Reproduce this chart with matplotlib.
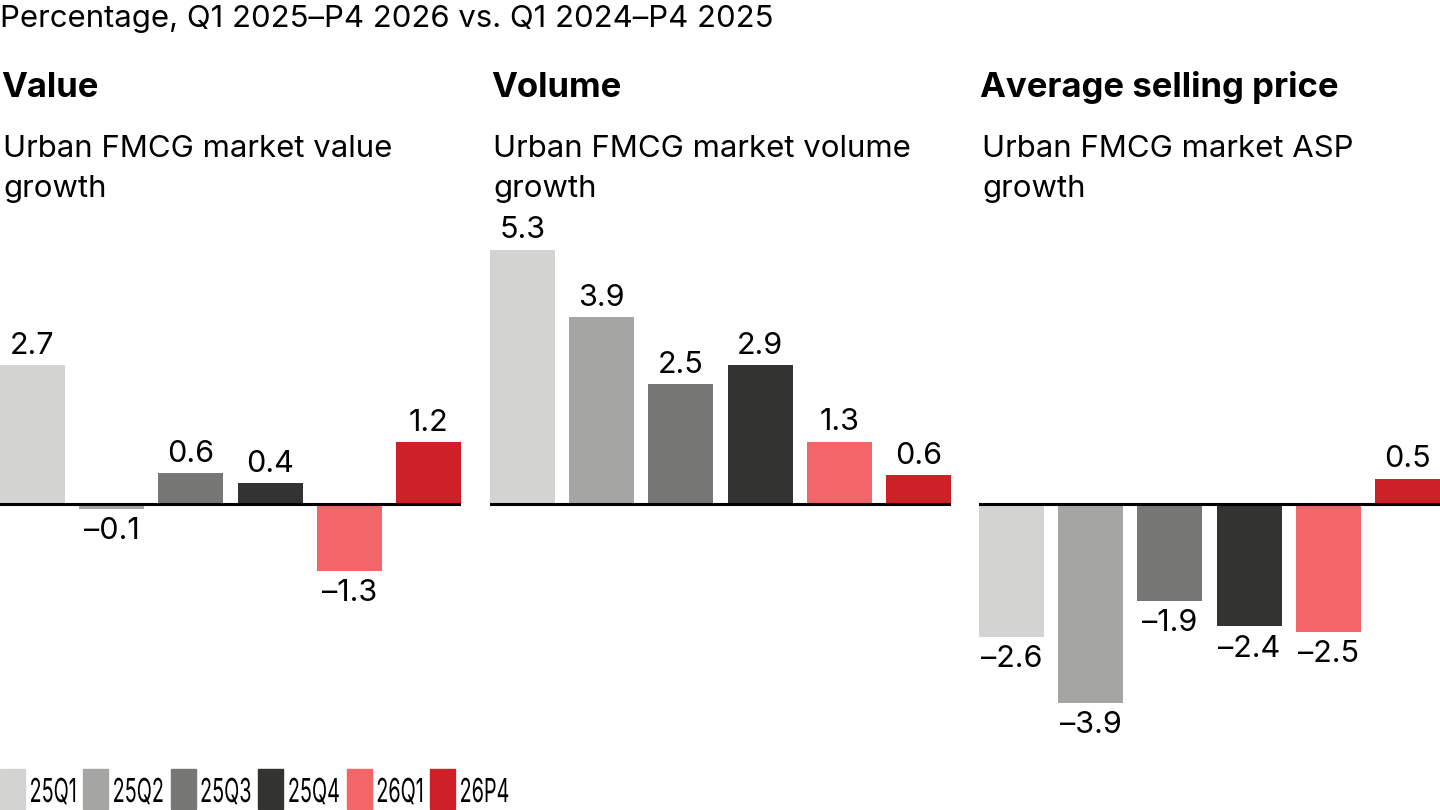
import matplotlib
matplotlib.use("Agg")
import matplotlib.pyplot as plt
from matplotlib.textpath import TextPath
from matplotlib.patches import PathPatch, Rectangle
from matplotlib.font_manager import FontProperties
from matplotlib.transforms import Affine2D

plt.rcParams['font.family'] = ['Inter', 'DejaVu Sans']

# data
quarters = ["25Q1", "25Q2", "25Q3", "25Q4", "26Q1", "26P4"]
value_growth = [2.7, -0.1, 0.6, 0.4, -1.3, 1.2]
volume_growth = [5.3, 3.9, 2.5, 2.9, 1.3, 0.6]
asp_growth = [-2.6, -3.9, -1.9, -2.4, -2.5, 0.5]

panel_titles = ["Value", "Volume", "Average selling price"]
panel_subtitles = [("Urban FMCG market value", "growth"),
                   ("Urban FMCG market volume", "growth"),
                   ("Urban FMCG market ASP", "growth")]
header = "Percentage, Q1 2025\u2013P4 2026 vs. Q1 2024\u2013P4 2025"

colors = ["#d3d3d2", "#a5a5a4", "#777776", "#333332", "#f26669", "#cd2027"]

W, H = 1440, 810
fig = plt.figure(figsize=(W / 100, H / 100), dpi=100)

# pixel layout helpers
def fx(px):
    return px / W

def fy(py):
    return 1 - py / H

lefts = [0, 490, 979]
scales = [51.5, 48.0, 51.0]   # px per percentage point in each panel
ax_w = 461
ax_top, ax_bot = 200, 740
zero_px = 504

fig.text(fx(0), fy(27), header, fontsize=22.4, va='baseline', ha='left')

all_series = [value_growth, volume_growth, asp_growth]
for left, scale, vals, title, sub in zip(lefts, scales, all_series,
                                         panel_titles, panel_subtitles):
    ax = fig.add_axes([fx(left), fy(ax_bot), fx(ax_w), (ax_bot - ax_top) / H])
    x = list(range(len(vals)))
    bars = ax.bar(x, vals, width=0.82, color=colors, zorder=2)
    ax.axhline(0, color='black', lw=2.2, zorder=3)
    ax.set_xlim(-0.41, len(vals) - 1 + 0.41)
    ax.set_ylim(-(ax_bot - zero_px) / scale, (zero_px - ax_top) / scale)
    ax.axis('off')
    for b, v in zip(bars, vals):
        label = f"{v:.1f}".replace("-", "\u2013")
        if v >= 0:
            ax.annotate(label, (b.get_x() + b.get_width() / 2, v),
                        xytext=(0, 8), textcoords='offset points',
                        ha='center', va='baseline', fontsize=22)
        else:
            ax.annotate(label, (b.get_x() + b.get_width() / 2, v),
                        xytext=(0, -6), textcoords='offset points',
                        ha='center', va='top', fontsize=22)
    fig.text(fx(left + 1), fy(97), title, fontsize=25, fontweight='bold',
             va='baseline', ha='left')
    fig.text(fx(left + 3), fy(157), sub[0], fontsize=22.4, va='baseline', ha='left')
    fig.text(fx(left + 3), fy(197), sub[1], fontsize=22.4, va='baseline', ha='left')

# legend with condensed labels, drawn in pixel space
lax = fig.add_axes([0, 0, 1, 1])
lax.set_xlim(0, W)
lax.set_ylim(H, 0)
lax.axis('off')
fp = FontProperties(family='Inter')
x0 = 0
for q, c in zip(quarters, colors):
    lax.add_patch(Rectangle((x0, 769), 25, 40, color=c))
    tp = TextPath((0, 0), q, size=33, prop=fp)
    ext = tp.get_extents()
    tx = x0 + 31
    path = Affine2D().translate(-ext.x0, 0).scale(0.6, -1).translate(tx, 802).transform_path(tp)
    lax.add_patch(PathPatch(path, color='black', lw=0))
    x0 = tx + ext.width * 0.6 + 8

fig.savefig("out.png", dpi=100)
